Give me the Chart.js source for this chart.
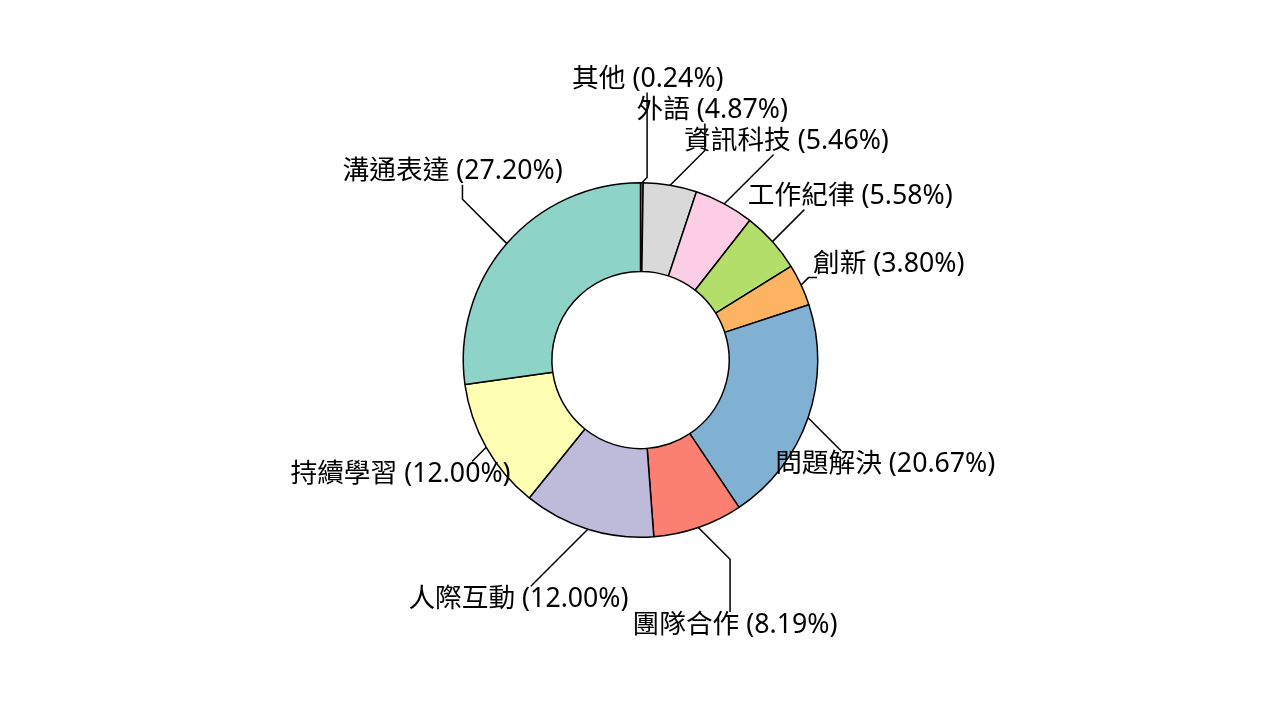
<!DOCTYPE html>
<html lang="zh-Hant">
<head>
<meta charset="UTF-8">
<title>能力分布</title>
<script src="https://cdn.jsdelivr.net/npm/chart.js"></script>
<style>
  html, body { margin: 0; padding: 0; background: #fff; }
  #wrap { position: relative; width: 1281px; height: 720px; }
</style>
</head>
<body>
<div id="wrap"><canvas id="donut"></canvas></div>
<script>
// data, clockwise from 12 o'clock
const categories = ['其他', '外語', '資訊科技', '工作紀律', '創新', '問題解決', '團隊合作', '人際互動', '持續學習', '溝通表達'];
const percents = [0.24, 4.87, 5.46, 5.58, 3.80, 20.67, 8.19, 12.00, 12.00, 27.20];
const sliceColors = ['#BC80BD', '#D9D9D9', '#FCCDE5', '#B3DE69', '#FDB462', '#80B1D3', '#FB8072', '#BEBADA', '#FFFFB3', '#8DD3C7'];

const labelFont = '26.7px "Noto Sans", "Noto Sans CJK TC", sans-serif';

// outside labels with bent leader lines, spread apart so they don't overlap
const outsideLabels = {
    id: 'outsideLabels',
    afterDatasetsDraw(chart) {
        const ctx = chart.ctx;
        const arcs = chart.getDatasetMeta(0).data;
        const turn = 4 * Math.PI / 180;
        ctx.save();
        ctx.font = labelFont;
        const boxes = arcs.map((arc, i) => {
            const a = (arc.startAngle + arc.endAngle) / 2;
            const R = arc.outerRadius;
            const text = categories[i] + ' (' + percents[i].toFixed(2) + '%)';
            const w = ctx.measureText(text).width + 4;
            return {
                text, w, h: 31,
                px: arc.x + Math.cos(a) * R, py: arc.y + Math.sin(a) * R,
                cx: arc.x + Math.cos(a + turn) * R * 1.5, cy: arc.y + Math.sin(a + turn) * R * 1.5
            };
        });
        for (let it = 0; it < 400; it++) {
            for (let i = 0; i < boxes.length; i++) {
                for (let j = i + 1; j < boxes.length; j++) {
                    const A = boxes[i], B = boxes[j];
                    const ox = (A.w + B.w) / 2 - Math.abs(A.cx - B.cx);
                    const oy = (A.h + B.h) / 2 - Math.abs(A.cy - B.cy);
                    if (ox <= 0 || oy <= 0) continue;
                    let dx = B.cx - A.cx, dy = (B.cy - A.cy) * 4;
                    const d = Math.hypot(dx, dy) || 1;
                    dx /= d; dy /= d;
                    const need = Math.min(ox / (Math.abs(dx) || 1e-6), oy / (Math.abs(dy) || 1e-6));
                    const step = Math.min(need, 40) * 0.1 + 0.05;
                    A.cx -= dx * step; A.cy -= dy * step;
                    B.cx += dx * step; B.cy += dy * step;
                }
            }
        }
        ctx.strokeStyle = '#000';
        ctx.lineWidth = 1.5;
        boxes.forEach(b => {
            // attach on top or bottom edge of the label, toward the slice
            const vx = b.px - b.cx, vy = b.py - b.cy;
            const hh = 13;
            const ay = b.cy + Math.sign(vy) * hh;
            let ax = b.cx + vx * (hh / (Math.abs(vy) || 1e-6));
            const dyAbs = Math.abs(ay - b.py);
            if (Math.abs(ax - b.px) > dyAbs) ax = b.px + Math.sign(ax - b.px) * dyAbs;
            ax = Math.max(b.cx - b.w / 2 + 6, Math.min(b.cx + b.w / 2 - 6, ax));
            const ddx = ax - b.px, ddy = ay - b.py;
            const m = Math.min(Math.abs(ddx), Math.abs(ddy));
            ctx.beginPath();
            ctx.moveTo(b.px, b.py);
            ctx.lineTo(b.px + Math.sign(ddx) * m, b.py + Math.sign(ddy) * m);
            ctx.lineTo(ax, ay);
            ctx.stroke();
        });
        ctx.fillStyle = '#000';
        ctx.textAlign = 'center';
        ctx.textBaseline = 'middle';
        boxes.forEach(b => ctx.fillText(b.text, b.cx, b.cy));
        ctx.restore();
    }
};

Chart.defaults.font.family = '"Noto Sans", "Noto Sans CJK TC", sans-serif';

new Chart(document.getElementById('donut'), {
    type: 'doughnut',
    data: {
        labels: categories,
        datasets: [{
            data: percents,
            backgroundColor: sliceColors,
            borderColor: '#000',
            borderWidth: 1.5
        }]
    },
    options: {
        responsive: true,
        maintainAspectRatio: false,
        animation: false,
        cutout: '50%',
        layout: { padding: { top: 182, bottom: 182, left: 0, right: 0 } },
        plugins: { legend: { display: false }, tooltip: { enabled: false } }
    },
    plugins: [outsideLabels]
});
</script>
</body>
</html>
